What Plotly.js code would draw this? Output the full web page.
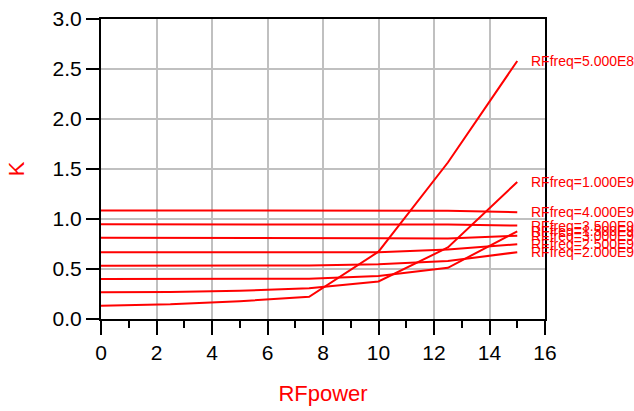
<!DOCTYPE html>
<html>
<head>
<meta charset="utf-8">
<script src="https://cdn.plot.ly/plotly-3.0.1.min.js"></script>
<style>html,body{margin:0;padding:0;background:#fff;}#chart{width:634px;height:411px;}</style>
</head>
<body>
<div id="chart"></div>
<script>
// RF power sweep points (x axis)
const power = [0, 2.5, 5, 7.5, 10, 12.5, 15];
// curve labels
const freqLabels = ['RFfreq=5.000E8', 'RFfreq=1.000E9', 'RFfreq=1.500E9', 'RFfreq=2.000E9',
                    'RFfreq=2.500E9', 'RFfreq=3.000E9', 'RFfreq=3.500E9', 'RFfreq=4.000E9'];
// K values per frequency
const k_5e8   = [0.133, 0.147, 0.178, 0.222, 0.673, 1.565, 2.58];
const k_1e9   = [0.267, 0.270, 0.282, 0.307, 0.375, 0.715, 1.37];
const k_1p5e9 = [0.400, 0.400, 0.400, 0.402, 0.430, 0.512, 0.877];
const k_2e9   = [0.533, 0.533, 0.533, 0.535, 0.548, 0.580, 0.668];
const k_2p5e9 = [0.667, 0.667, 0.667, 0.667, 0.667, 0.695, 0.747];
const k_3e9   = [0.813, 0.813, 0.813, 0.812, 0.808, 0.805, 0.833];
const k_3p5e9 = [0.947, 0.947, 0.947, 0.947, 0.946, 0.944, 0.935];
const k_4e9   = [1.085, 1.085, 1.085, 1.085, 1.085, 1.083, 1.068];
const series = [k_5e8, k_1e9, k_1p5e9, k_2e9, k_2p5e9, k_3e9, k_3p5e9, k_4e9];
// axis tick labels
const xTicks = [0, 2, 4, 6, 8, 10, 12, 14, 16];
const yTicks = [0, 0.5, 1.0, 1.5, 2.0, 2.5, 3.0];

const RED = '#ff0000';
const FONT = '"Liberation Sans", Arial, sans-serif';

const traces = series.map((ys, i) => ({
  x: power, y: ys, type: 'scatter', mode: 'lines', name: freqLabels[i],
  line: {color: RED, width: 2}, hoverinfo: 'skip'
}));

const annotations = series.map((ys, i) => ({
  x: power[power.length - 1], y: ys[ys.length - 1], xref: 'x', yref: 'y',
  text: freqLabels[i], showarrow: false, xanchor: 'left', yanchor: 'middle',
  xshift: 12, font: {family: FONT, size: 14, color: RED}
}));

const layout = {
  width: 634, height: 411,
  margin: {l: 101, r: 89, t: 19, b: 92},
  paper_bgcolor: '#fff', plot_bgcolor: '#fff',
  showlegend: false,
  font: {family: FONT, color: '#000'},
  xaxis: {
    range: [0, 16], tickvals: xTicks, ticktext: xTicks.map(String),
    showgrid: true, gridcolor: '#c0c0c0', gridwidth: 2, zeroline: false,
    showline: true, linecolor: '#000', linewidth: 2, mirror: true,
    ticks: 'outside', ticklen: 14, tickwidth: 2, tickcolor: '#000',
    tickfont: {family: FONT, size: 21, color: '#000'},
    minor: {dtick: 1, tick0: 0, ticks: 'outside', ticklen: 7, tickwidth: 2, tickcolor: '#000', showgrid: false},
    title: {text: 'RFpower', font: {family: FONT, size: 22, color: RED}, standoff: 22}
  },
  yaxis: {
    range: [0, 3.0], tickvals: yTicks, ticktext: yTicks.map(v => v.toFixed(1)),
    showgrid: true, gridcolor: '#c0c0c0', gridwidth: 2, zeroline: false,
    showline: true, linecolor: '#000', linewidth: 2, mirror: true,
    ticks: 'outside', ticklen: 13, tickwidth: 2, tickcolor: '#000',
    tickfont: {family: FONT, size: 21, color: '#000'},
    title: {text: 'K', font: {family: FONT, size: 22, color: RED}, standoff: 22}
  },
  annotations: annotations
};

Plotly.newPlot('chart', traces, layout, {staticPlot: true, displayModeBar: false});
</script>
</body>
</html>
